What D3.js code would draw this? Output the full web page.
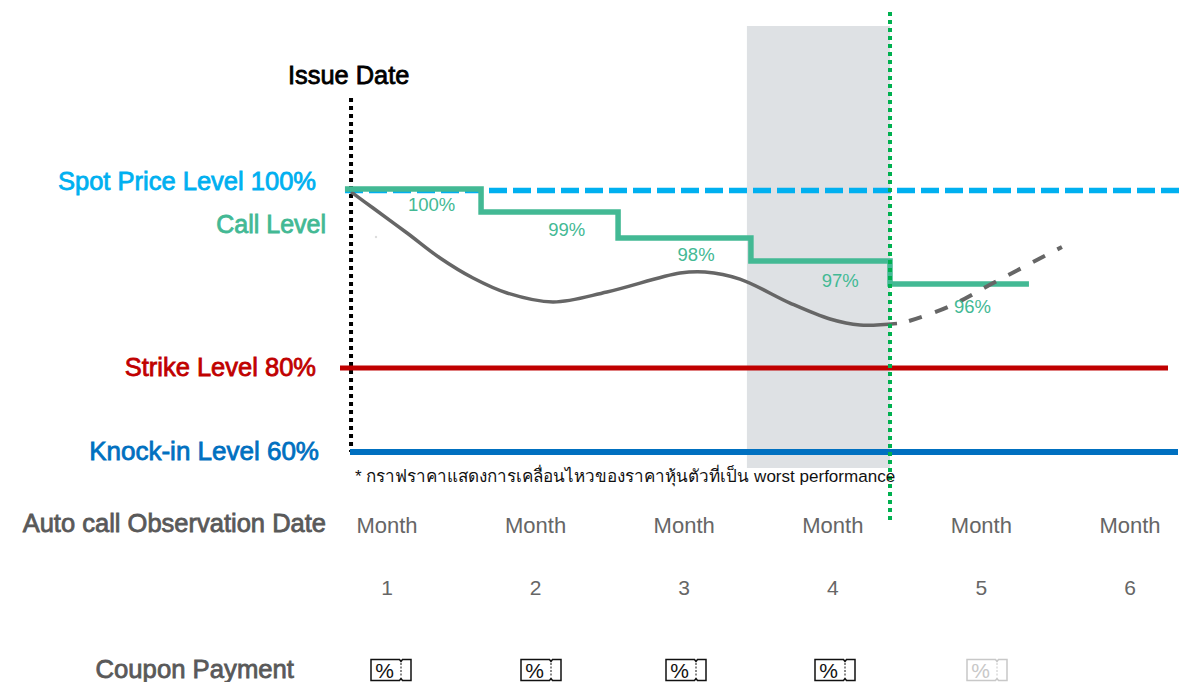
<!DOCTYPE html>
<html><head><meta charset="utf-8">
<script src="https://cdnjs.cloudflare.com/ajax/libs/d3/7.8.5/d3.min.js"></script>
<style>html,body{margin:0;padding:0;background:#fff;overflow:hidden}svg{display:block}text{font-family:"Liberation Sans",Arial,sans-serif}</style>
</head><body><svg id="c" width="1185" height="682"></svg>
<script>
const months = [1, 2, 3, 4, 5, 6];
const monthWord = "Month";
const couponMonths = [1, 2, 3, 4, 5];
const couponFaded = [5];
const couponX = [391, 541, 686, 835, 987];
const callStepEdges = [0.717, 1.633, 2.555, 3.449, 4.385, 5.32];
const callPlotted = [100.1, 97.53, 94.61, 92.02, 89.44];
const callLabels = ["100%", "99%", "98%", "97%", "96%"];
const callLabelMonth = [1.30, 2.21, 3.08, 4.05, 4.94];
const callLabelLevel = [97.64, 94.83, 92.02, 89.10, 86.18];
const pathMonth = [0.758,0.906,1.135,1.357,1.579,1.808,2.117,2.480,2.972,3.140,3.375,3.712,3.981,4.183,4.432];
const pathLevel = [99.78,97.98,95.17,92.36,90.11,88.43,87.42,88.54,90.67,90.79,89.99,87.30,85.51,84.83,85.0];
const forecastMonth = [4.513,4.775,5.092,5.542];
const forecastLevel = [85.28,86.85,89.66,93.6];
const levelNames = ["Spot Price Level 100%", "Strike Level 80%", "Knock-in Level 60%"];
const levelValues = [100, 80, 60];
const levelColors = ["#00b0f0", "#c00000", "#0070c0"];
const issueMonth = 0.758, nowMonth = 4.385, shadeStart = 3.422;

const svg = d3.select("#c");
const x = d3.scaleLinear().domain([1, 6]).range([387, 1130]);
const y = d3.scaleLinear().domain([60, 80, 100]).range([452, 368, 190]);
const bold = (s, col, size) => s.attr("fill", col).attr("stroke", col).attr("stroke-width", 0.8).attr("font-size", size);

svg.append("rect").attr("x", x(shadeStart)).attr("width", x(nowMonth) - x(shadeStart))
  .attr("y", 26).attr("height", 442).attr("fill", "#dee1e4");

svg.append("line").attr("x1", x(issueMonth)).attr("x2", x(issueMonth)).attr("y1", 98).attr("y2", y(60))
  .attr("stroke", "#000").attr("stroke-width", 4).attr("stroke-dasharray", "4 4");

svg.append("line").attr("x1", 345).attr("x2", 1180).attr("y1", y(100) + 0.5).attr("y2", y(100) + 0.5)
  .attr("stroke", levelColors[0]).attr("stroke-width", 5.5).attr("stroke-dasharray", "18 6");
svg.append("line").attr("x1", 340).attr("x2", 1168).attr("y1", y(80)).attr("y2", y(80))
  .attr("stroke", levelColors[1]).attr("stroke-width", 5);
svg.append("line").attr("x1", 350).attr("x2", 1178).attr("y1", y(60)).attr("y2", y(60))
  .attr("stroke", levelColors[2]).attr("stroke-width", 6);

const curve = d3.line().x(d => x(d[0])).y(d => y(d[1])).curve(d3.curveCatmullRom);
svg.append("path").attr("d", curve(pathMonth.map((m, i) => [m, pathLevel[i]])))
  .attr("fill", "none").attr("stroke", "#666").attr("stroke-width", 3.5);

let stepPts = [];
callPlotted.forEach((v, i) => { stepPts.push([callStepEdges[i], v]); stepPts.push([callStepEdges[i + 1], v]); });
svg.append("path").attr("d", d3.line().x(d => x(d[0])).y(d => y(d[1]))(stepPts))
  .attr("fill", "none").attr("stroke", "#43b994").attr("stroke-width", 5.5);
svg.append("path").attr("d", curve(forecastMonth.map((m, i) => [m, forecastLevel[i]])))
  .attr("fill", "none").attr("stroke", "#666").attr("stroke-width", 4).attr("stroke-dasharray", "13.5 14");
svg.append("g").selectAll("text").data(callLabels).join("text")
  .attr("x", (d, i) => x(callLabelMonth[i])).attr("y", (d, i) => y(callLabelLevel[i]))
  .attr("text-anchor", "middle").attr("font-size", 18.5).attr("fill", "#43b994").text(d => d);

svg.append("line").attr("x1", x(nowMonth)).attr("x2", x(nowMonth)).attr("y1", 12).attr("y2", 520)
  .attr("stroke", "#00b050").attr("stroke-width", 4).attr("stroke-dasharray", "4 4");

svg.append("circle").attr("cx", 376).attr("cy", 237).attr("r", 1.2).attr("fill", "#ddd");

const labelRight = [316, 316, 319], labelBase = [190, 376, 460], labelSize = [25.5, 25.5, 26];
levelNames.forEach((t, i) => bold(svg.append("text").attr("x", labelRight[i]).attr("y", labelBase[i])
  .attr("text-anchor", "end"), levelColors[i], labelSize[i]).text(t));
bold(svg.append("text").attr("x", 326).attr("y", 233).attr("text-anchor", "end"), "#43b994", 25).text("Call Level");
bold(svg.append("text").attr("x", 288).attr("y", 84), "#000", 25.4).text("Issue Date");
bold(svg.append("text").attr("x", 326).attr("y", 532).attr("text-anchor", "end"), "#595959", 25.5).text("Auto call Observation Date");
bold(svg.append("text").attr("x", 294).attr("y", 678).attr("text-anchor", "end"), "#595959", 25.7).text("Coupon Payment");

svg.append("text").attr("x", 355).attr("y", 482).attr("font-size", 17.05).attr("fill", "#111")
  .attr("font-family", '"Noto Sans Thai","Noto Sans","Liberation Sans",sans-serif')
  .text("* กราฟราคาแสดงการเคลื่อนไหวของราคาหุ้นตัวที่เป็น worst performance");

svg.append("g").selectAll("text").data(months).join("text").attr("x", d => x(d)).attr("y", 533)
  .attr("text-anchor", "middle").attr("font-size", 22).attr("fill", "#666").text(monthWord);
svg.append("g").selectAll("text").data(months).join("text").attr("x", d => x(d)).attr("y", 595)
  .attr("text-anchor", "middle").attr("font-size", 21).attr("fill", "#666").text(d => d);

couponMonths.forEach((m, i) => {
  const col = couponFaded.includes(m) ? "#c8c8c8" : "#111";
  const g = svg.append("g").attr("transform", `translate(${couponX[i]},670)`);
  g.append("path").attr("d", "M-20,-10.5 H8.5 L10,-8.5 L11.5,-10.5 H20 V10.5 H11.5 L10,8.5 L8.5,10.5 H-20 Z")
    .attr("fill", "none").attr("stroke", col).attr("stroke-width", 1.5);
  g.append("line").attr("x1", 10).attr("x2", 10).attr("y1", -7).attr("y2", 7)
    .attr("stroke", col).attr("stroke-width", 1).attr("stroke-dasharray", "2 1.5");
  g.append("text").attr("x", -6.5).attr("y", 7.5).attr("text-anchor", "middle").attr("font-size", 21)
    .attr("fill", col).text("%");
});
</script></body></html>
